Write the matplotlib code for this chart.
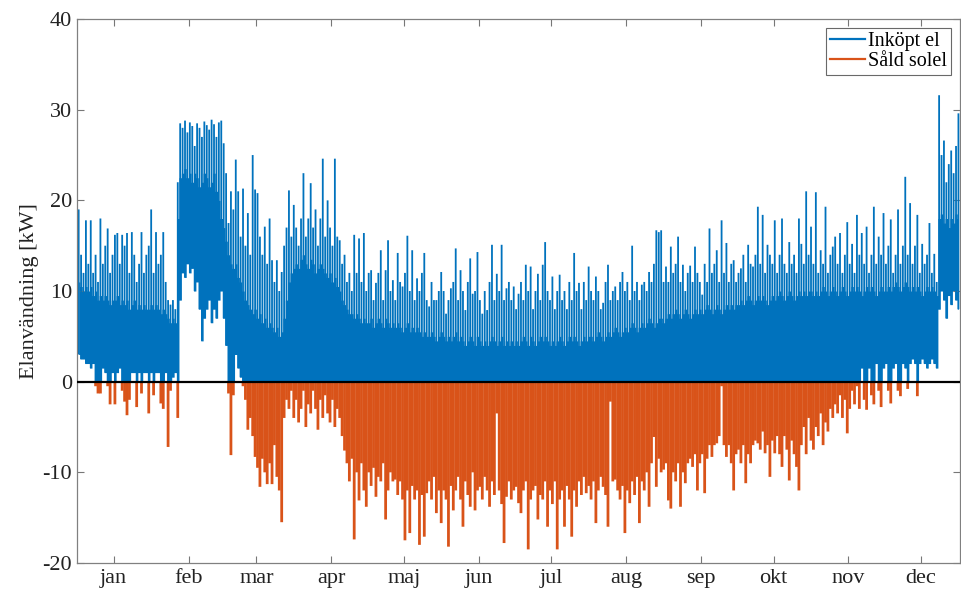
import numpy as np
import matplotlib
matplotlib.use("Agg")
import matplotlib.pyplot as plt
from matplotlib.lines import Line2D

plt.rcParams['font.family'] = ['Liberation Serif', 'DejaVu Serif']
plt.rcParams['axes.unicode_minus'] = False

# Månader och antal dagar
manader = ['jan', 'feb', 'mar', 'apr', 'maj', 'jun', 'jul', 'aug', 'sep', 'okt', 'nov', 'dec']
manadsdagar = [31, 28, 31, 30, 31, 30, 31, 31, 30, 31, 30, 31]

# Inköpt el, dygnets högsta topp [kW] (en rad per månad)
inkopt_topp = [
    [19, 14, 12, 17.8, 13, 17.8, 12, 14, 11, 18, 13, 15, 16.9, 12, 14, 16.2, 16.4, 13, 16.2, 15, 16.4, 12, 16.5, 14, 11, 13, 16.5, 12, 14, 15, 19],
    [12, 16.5, 13, 14, 16.5, 11, 9, 8.5, 9, 8, 22, 28.5, 28, 28.8, 27.5, 28.6, 28.2, 26, 28.5, 28, 27, 28.7, 28.3, 27.8, 28.9, 28.4, 27, 28.6],
    [28.8, 26.3, 23, 17.5, 21, 19, 24.5, 21, 16, 21.3, 15, 18.6, 14, 25, 21.2, 20.8, 16, 14, 17.1, 13, 18, 13.4, 11, 13.4, 10, 12.1, 15, 17, 21.1, 16, 19.5],
    [17, 15, 18, 23, 16, 18, 21.9, 17, 19, 15, 18, 24.6, 16, 20, 17, 15, 24.6, 16, 15.6, 13, 14, 11, 12, 10, 16.2, 12, 15.8, 11, 16.4, 10],
    [12, 12.3, 9, 10.9, 12, 14.5, 9, 12.3, 15.6, 10, 11.2, 9, 14.2, 11, 10.5, 12, 16.1, 10, 14.5, 9, 11.4, 10, 12, 14.2, 9, 8.3, 11, 9, 9, 10, 12.1],
    [10, 7.5, 9, 10.3, 11, 14.7, 9, 12.3, 10, 7.9, 11, 13.6, 9.7, 10, 14.3, 9, 7.5, 10, 7.9, 11, 15.1, 9, 11.9, 10, 15.1, 9, 10.3, 11, 9, 10.5],
    [8, 9.7, 11, 9, 12.9, 10, 12.7, 8, 10, 11.9, 9, 12.9, 15.4, 10, 9, 11.6, 8, 10, 11.8, 9, 10, 8, 11, 9, 14.2, 10, 10.9, 8, 11, 9, 12.7],
    [10, 9, 11.6, 10, 8, 8.7, 11, 12.9, 9, 10, 10.5, 9, 11, 12.1, 10, 11, 9, 15, 10, 11, 9, 10.7, 11, 10, 12.1, 11, 13, 16.7, 16.5, 16.7, 11],
    [12.7, 11, 14.9, 12, 13, 16, 11, 12.9, 10, 12, 12.8, 11, 14.9, 12, 11, 9.6, 13, 11, 16.9, 12, 13, 14.5, 11, 17.8, 12, 15.3, 11, 13, 13.4, 11],
    [12, 12.5, 14, 11, 15.1, 13, 12.7, 14, 19.3, 13, 18.4, 12, 15.1, 14, 13, 17.8, 12, 14, 18, 13, 12, 15.4, 13, 14, 12, 18, 15.2, 13, 21, 14, 17.1],
    [13, 20.9, 12, 14.5, 13, 19.3, 12, 14, 14.9, 16, 13, 16.4, 12, 14, 17.6, 13, 15.2, 12, 18.4, 14, 16.4, 13, 17.1, 12, 14, 19.3, 13, 16, 14, 18.6],
    [13, 15, 17.9, 12, 14, 19, 13, 15, 22.6, 14, 19.7, 13, 15, 18.4, 12, 15.2, 13, 14, 17.5, 12, 14.1, 11, 31.6, 25, 26.6, 22, 24, 25.5, 23, 26, 29.6],
]

# Inköpt el, tät basnivå under dygnet [kW]
inkopt_bas = [
    [11, 10.5, 10, 10.5, 10, 10.5, 9.5, 10, 9, 9.5, 9, 9.5, 9, 8.5, 9, 9, 9.5, 8.5, 9, 8.5, 9, 8, 8.5, 9, 8, 8.5, 8, 8.5, 8, 8, 8.5],
    [8, 8.5, 8, 7.5, 8, 7.5, 7, 6.5, 7, 6.5, 18, 22.5, 23, 23.5, 22.5, 23, 22, 23, 22.5, 21.5, 22, 23, 22.5, 21.5, 22, 23, 21, 20],
    [18, 17, 15.5, 14, 13, 12.5, 13, 11.5, 11, 10, 9, 8.5, 8, 7.5, 8, 7, 7.5, 6.5, 7, 6, 6.5, 6, 5.5, 6, 5, 5.5, 7, 9, 11, 12, 12.5],
    [13, 12.5, 13.5, 14, 13, 12.5, 13.5, 13, 12, 12.5, 13, 12.5, 12, 11.5, 12, 11, 11.5, 10.5, 10, 9, 8.5, 8, 7.5, 7.5, 7, 7.5, 7, 6.5, 7, 6.5],
    [6.5, 7, 6, 6.5, 7, 6.5, 6, 7, 6.5, 6, 6.5, 6, 6.5, 6, 5.5, 6, 6.5, 5.5, 6, 5.5, 6, 5.5, 5, 5.5, 5, 5, 5.5, 5, 4.5, 5, 5.5],
    [5, 4.5, 5, 4.5, 5, 5.5, 4.5, 5, 4.5, 4, 4.5, 5, 4.5, 4, 5, 4.5, 4, 4.5, 4, 4.5, 5, 4.5, 4, 4.5, 5, 4, 4.5, 4, 4.5, 4],
    [4.5, 4, 4.5, 5, 4.5, 4, 5, 4.5, 4, 4.5, 5, 4.5, 5, 4.5, 4, 4.5, 4, 4.5, 5, 4.5, 4, 4.5, 5, 4.5, 5, 4.5, 4, 4.5, 5, 4.5, 5],
    [5, 4.5, 5, 5.5, 5, 4.5, 5, 5.5, 5, 5.5, 6, 5.5, 5, 5.5, 6, 5.5, 6, 6.5, 6, 5.5, 6, 6.5, 6, 6.5, 7, 6.5, 6, 6.5, 7, 7, 6.5],
    [7, 7.5, 7, 7.5, 8, 7.5, 7, 7.5, 8, 7.5, 7, 7.5, 8, 7.5, 8, 7.5, 8, 8.5, 8, 7.5, 8, 8.5, 8, 7.5, 8, 8.5, 8, 8.5, 8, 8.5],
    [8.5, 9, 8.5, 9, 9.5, 9, 8.5, 9, 9.5, 9, 9.5, 9, 8.5, 9, 9.5, 9, 9.5, 10, 9.5, 9, 9.5, 10, 9.5, 9, 9.5, 10, 9.5, 10, 9.5, 10, 10],
    [9.5, 10, 9.5, 10, 10.5, 10, 9.5, 10, 10.5, 10, 9.5, 10, 10.5, 10, 9.5, 10, 10.5, 10, 10.5, 10, 9.5, 10, 10.5, 10, 10.5, 10, 9.5, 10, 10.5, 10],
    [10, 10.5, 10, 10.5, 11, 10.5, 10, 10.5, 11, 10.5, 10, 10.5, 10, 10.5, 10, 9.5, 10, 10.5, 10, 10.5, 10, 9.5, 18, 18.5, 17.5, 18, 17, 18, 17.5, 18.5, 18],
]

# Inköpt el, dygnets lägsta nivå [kW]
inkopt_botten = [
    [3, 2.5, 2.5, 2, 2, 1.5, 2, 0, 0, 0, 1.5, 1, 0, 0, 1, 0, 1, 1.5, 0, 0, 0, 0, 1, 1, 0, 1, 0, 1, 1, 0, 1],
    [0, 1, 1, 0, 0, 1, 0, 0, 0.5, 1, 0, 9, 12, 11.5, 13, 12, 12.5, 10, 11, 8, 4.5, 7, 8, 9, 6.5, 8, 7, 9],
    [10, 7, 4, 0, 0, 0, 3, 1.5, 0.5, 0] + [0] * 21,
    [0] * 30,
    [0] * 31,
    [0] * 30,
    [0] * 31,
    [0] * 31,
    [0] * 30,
    [0] * 31,
    [0] * 20 + [1.5, 0, 0, 1.5, 0, 0, 2, 0, 0, 1.5],
    [2, 0, 0, 1.5, 2, 0, 0, 2, 1.5, 0, 2, 2.5, 2, 0, 2, 2.5, 2, 1.5, 2, 2.5, 2, 1.5, 8, 10, 9, 7, 9.5, 8.5, 10, 9, 8],
]

# Såld solel, dygnets lägsta värde [kW]
sald_solel = [
    [0, 0, 0, 0, 0, 0, 0, -0.5, -1.3, -1.3, 0, 0, -0.5, -2.5, 0, -2.5, 0, 0, -1, -2.2, -3.7, -2, 0, 0, -2.8, 0, -1.3, 0, 0, -3.5, 0],
    [-1.5, 0, 0, -2.4, -3, 0, -7.2, -1, 0, 0, -4] + [0] * 17,
    [0, 0, 0, -1.3, -8.1, -1.5, 0, 0, 0, -0.5, -2, -5.3, -4, -6, -8.3, -9.5, -11.6, -8.5, -10, -11.3, -9, -11.3, -7, -10.5, -12, -15.5, -4, -2, -3, -1, -4],
    [-2, -4.5, -3, -1, -5, -2.5, -3.5, -1, -3, -5.3, -2, -4, -1.5, -3.5, -4.5, -2, -5, -3, -4, -6, -7.6, -9, -11, -8.5, -17.4, -10, -13.1, -9, -12, -13.8],
    [-10, -11.5, -9.5, -12.7, -10.5, -11, -9, -15.2, -12, -10, -11, -10.8, -12.5, -11, -13, -17.5, -12, -16.7, -11.5, -13, -12, -18, -12.5, -17.1, -12.3, -11, -13, -10.5, -14.5, -12, -15.6],
    [-12, -13, -18.2, -11.5, -14.2, -12, -10.5, -13, -16, -11, -12.5, -13.8, -10, -14.2, -12, -11.6, -13, -10.5, -12, -13.8, -11, -12.5, -3.5, -12, -13.5, -17.8, -12.7, -11, -13, -12],
    [-11.6, -13.4, -14.5, -12, -11, -18.5, -13, -12, -11.5, -15.2, -12.5, -13, -11, -16, -12, -13.5, -11, -18.5, -13, -12, -16, -11.5, -13, -17.1, -12, -13.8, -11, -12.5, -10.5, -12.3, -11.5],
    [-13, -11, -15.6, -12, -10.5, -11.6, -12.5, -16, -2.2, -11, -10.8, -12, -13, -11.5, -16.7, -12, -13.4, -11, -12.5, -10.5, -15.6, -11, -12, -10, -13.8, -9, -6.1, -11.6, -8.5, -10, -9.7],
    [-9, -13.1, -14, -10, -11, -9, -13.8, -10, -11.2, -9, -8.5, -9.4, -8, -12, -9, -8, -12.3, -8.5, -7, -8.3, -7, -6.8, -6, -0.5, -7, -8.3, -7, -9, -12, -8],
    [-7.5, -9, -7, -11.2, -8, -9, -7, -6.5, -6.8, -7.5, -5.5, -7.9, -7, -10.5, -6.5, -7.9, -6, -8, -9.4, -6, -7.5, -10.9, -6.5, -8, -9.4, -12, -7, -5, -8, -4, -6.5],
    [-7.5, -5, -6, -3.5, -7, -4.5, -5.5, -3, -4, -2.5, -3.5, -1.5, -4, -2, -5.7, -3, -1, -2.5, -0.5, -3, 0, -2, -3.1, 0, -1.5, -2.5, 0, -1, -2.8, 0],
    [0, -1, -2.4, 0, 0, -1, -1.6, 0, 0, -0.8, 0, 0, 0, -1.6, 0] + [0] * 16,
]

topp = np.concatenate([np.array(m, float) for m in inkopt_topp])
bas = np.concatenate([np.array(m, float) for m in inkopt_bas])
botten = np.concatenate([np.array(m, float) for m in inkopt_botten])
sald = np.concatenate([np.array(m, float) for m in sald_solel])
dag = np.arange(len(topp)) + 0.5

bla = '#0072BD'
orange = '#D95319'

fig = plt.figure(figsize=(9.61, 5.96), dpi=100)
ax = fig.add_axes([0.0806, 0.0554, 0.918, 0.9126])

# Inköpt el
ax.fill_between(dag, botten, bas, step='mid', color=bla, lw=0)
ax.vlines(dag, botten, topp, color=bla, lw=1.3, snap=False)

# Såld solel
s = sald < 0
ax.vlines(dag[s], sald[s], 0, color=orange, lw=2.0, snap=False)

ax.axhline(0, color='black', lw=1.6, zorder=5)

ax.set_xlim(0, 365)
ax.set_ylim(-20, 40)
start = np.concatenate([[0], np.cumsum(manadsdagar)[:-1]])
ax.set_xticks(start + 15)
ax.set_xticklabels(manader)
ax.set_yticks(np.arange(-20, 41, 10))
ax.tick_params(direction='in', top=True, right=True, length=5, width=0.8,
               color='#777777', labelsize=16, labelcolor='#222222', pad=4)
for sp in ax.spines.values():
    sp.set_color('#808080')
    sp.set_linewidth(0.9)

ax.set_ylabel('Elanvändning [kW]', fontsize=16, color='#222222', labelpad=2)

handles = [Line2D([], [], color=bla, lw=1.6), Line2D([], [], color=orange, lw=1.6)]
leg = ax.legend(handles, ['Inköpt el', 'Såld solel'], loc='upper right',
                fontsize=14.5, frameon=True, fancybox=False, handlelength=1.7,
                handletextpad=0.15, borderpad=0.2, labelspacing=0.05,
                borderaxespad=0.45)
leg.get_frame().set_edgecolor('#444444')
leg.get_frame().set_linewidth(0.8)

fig.savefig('out.png', dpi=100)
